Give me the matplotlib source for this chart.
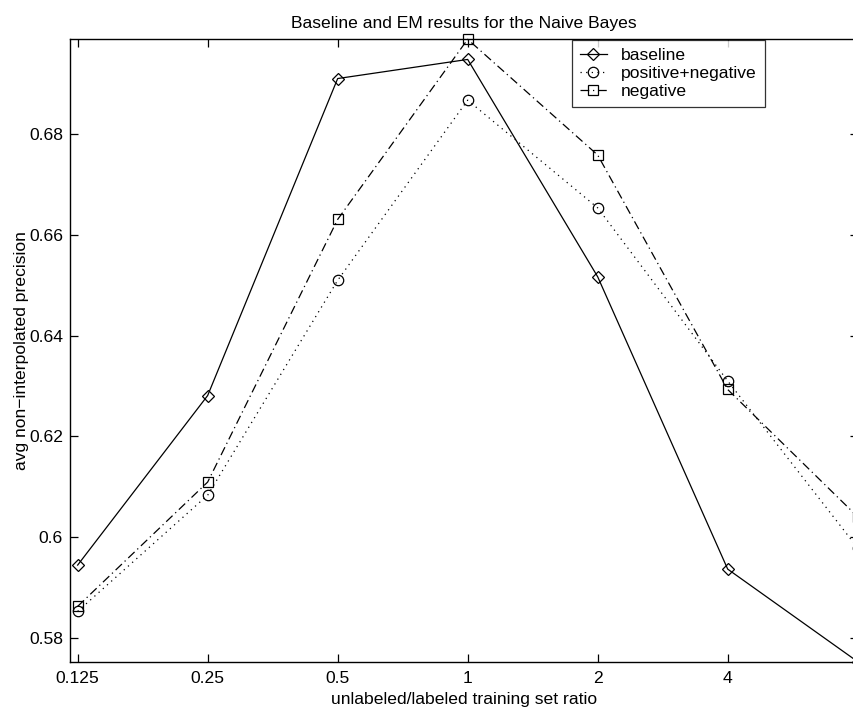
import matplotlib
matplotlib.use("Agg")
import matplotlib.pyplot as plt
import numpy as np

plt.rcParams['font.family'] = ['Liberation Sans', 'DejaVu Sans']

# unlabeled/labeled ratios and average non-interpolated precision per method
ratios = [0.125, 0.25, 0.5, 1, 2, 4, 8]
ratio_labels = ['0.125', '0.25', '0.5', '1', '2', '4', '8']
baseline = [0.5944, 0.6281, 0.6911, 0.6949, 0.6517, 0.5936, 0.5752]
pos_neg = [0.5852, 0.6083, 0.6510, 0.6868, 0.6654, 0.6310, 0.5978]
negative = [0.5862, 0.6109, 0.6631, 0.6989, 0.6759, 0.6293, 0.6040]
yticks = [0.58, 0.60, 0.62, 0.64, 0.66, 0.68]
ytick_labels = ['0.58', '0.6', '0.62', '0.64', '0.66', '0.68']

W, H = 854, 708
FS = 12.6
fig = plt.figure(figsize=(W / 100, H / 100), dpi=100)
ax = fig.add_axes([70 / W, 46.3 / H, 787.7 / W, 622.4 / H])

lw = 0.9
common = dict(color='black', linewidth=lw, markerfacecolor='none',
              markeredgecolor='black', markeredgewidth=0.9, clip_on=False)
ax.plot(ratios, baseline, linestyle='-', marker='D', markersize=6,
        label='baseline', **common)
ax.plot(ratios, pos_neg, linestyle=(0, (1, 3.5)), marker='o', markersize=7.5,
        label='positive+negative', **common)
ax.plot(ratios, negative, linestyle=(0, (7, 3, 1, 3)), marker='s', markersize=6.5,
        label='negative', **common)

ax.set_xscale('log', base=2)
ax.set_xlim(0.12, 8)
ax.set_ylim(0.5752, 0.6989)
ax.set_xticks(ratios)
ax.set_xticklabels(ratio_labels)
ax.minorticks_off()
ax.set_yticks(yticks)
ax.set_yticklabels(ytick_labels)
ax.tick_params(direction='in', length=6, width=0.9, top=True, right=True,
               labelsize=FS, pad=5)
ax.tick_params(axis='x', pad=7)
for s in ax.spines.values():
    s.set_linewidth(1.0)

ax.set_title('Baseline and EM results for the Naive Bayes', fontsize=FS, pad=8)
ax.set_xlabel('unlabeled/labeled training set ratio', fontsize=FS, labelpad=4)
ax.set_ylabel('avg non\u2212interpolated precision', fontsize=FS, labelpad=0)

leg = ax.legend(loc='upper left', bbox_to_anchor=(572 / W, 1 - 40 / H),
                bbox_transform=fig.transFigure, fontsize=FS, frameon=True,
                fancybox=False, shadow=False, borderaxespad=0,
                handlelength=1.55, handletextpad=0.8, labelspacing=0.15,
                borderpad=0.45)
leg.get_frame().set_edgecolor('black')
leg.get_frame().set_linewidth(0.9)

fig.savefig('out.png', dpi=100)
